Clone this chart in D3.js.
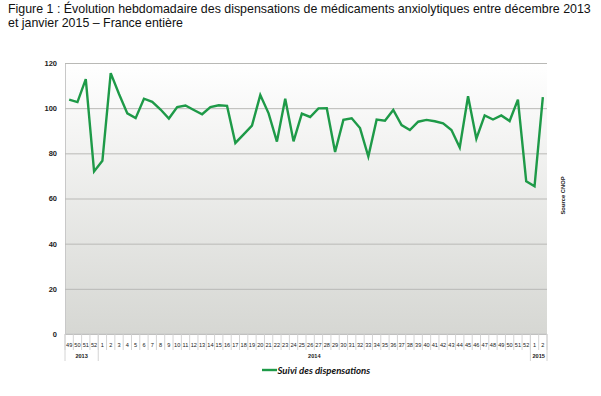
<!DOCTYPE html>
<html>
<head>
<meta charset="utf-8">
<script src="https://cdn.jsdelivr.net/npm/d3@7"></script>
<style>
  body { margin: 0; background: #fff; }
  svg { display: block; }
</style>
</head>
<body>
<svg></svg>
<script>
// weeks, grouped by year
var weeks = [49, 50, 51, 52,
  1, 2, 3, 4, 5, 6, 7, 8, 9, 10, 11, 12, 13, 14, 15, 16, 17, 18, 19, 20, 21, 22, 23, 24, 25, 26,
  27, 28, 29, 30, 31, 32, 33, 34, 35, 36, 37, 38, 39, 40, 41, 42, 43, 44, 45, 46, 47, 48, 49, 50, 51, 52,
  1, 2]
var years = ["2013", "2014", "2015"]
var yearCounts = [4, 52, 2]

var dispensations = [103.8, 102.7, 112.9, 72.0, 76.7, 115.5, 106.3, 97.7, 95.6, 104.2,
  102.8, 99.4, 95.4, 100.5, 101.2, 99.2, 97.3, 100.5, 101.3, 101.0,
  84.6, 88.4, 92.3, 105.8, 97.7, 85.2, 104.2, 85.3, 97.6, 96.1,
  99.9, 100.0, 80.6, 94.8, 95.5, 91.2, 78.6, 94.9, 94.4, 99.2,
  92.5, 90.3, 94.0, 94.8, 94.2, 93.3, 90.3, 82.6, 105.3, 86.5,
  96.8, 95.0, 96.8, 94.3, 103.8, 67.6, 65.4, 104.9]

var yTicks = [0, 20, 40, 60, 80, 100, 120]

var width = 601
var height = 396
var plotLeft = 65, plotRight = 547, plotTop = 63, plotBottom = 334

var svg = d3.select("svg")
    .attr("width", width)
    .attr("height", height)
    .style("font-family", "'Liberation Sans', Arial, sans-serif")

/* Title */
var title = svg.append("text")
    .attr("font-size", 12.4)
    .attr("fill", "#111")
title.append("tspan").attr("x", 8).attr("y", 13)
    .text("Figure 1 : Évolution hebdomadaire des dispensations de médicaments anxiolytiques entre décembre 2013")
title.append("tspan").attr("x", 8).attr("y", 27)
    .text("et janvier 2015 – France entière")

/* Scales */
var xScale = d3.scaleBand()
    .domain(d3.range(weeks.length))
    .range([plotLeft, plotRight])

var yScale = d3.scaleLinear()
    .domain([0, 120])
    .range([plotBottom, plotTop])

/* Plot background */
var grad = svg.append("defs").append("linearGradient")
    .attr("id", "bg")
    .attr("x1", 0).attr("y1", 0).attr("x2", 0).attr("y2", 1)
grad.append("stop").attr("offset", "0%").attr("stop-color", "#ffffff")
grad.append("stop").attr("offset", "100%").attr("stop-color", "#d6d7d3")

svg.append("rect")
    .attr("x", plotLeft)
    .attr("y", plotTop)
    .attr("width", plotRight - plotLeft)
    .attr("height", plotBottom - plotTop)
    .attr("fill", "url(#bg)")

/* Y grid + labels */
var yAxis = d3.axisLeft(yScale)
    .tickValues(yTicks)
    .tickSize(-(plotRight - plotLeft))
    .tickPadding(8)

var gy = svg.append("g")
    .attr("transform", "translate(" + plotLeft + ",0)")
    .call(yAxis)
gy.select(".domain").attr("stroke", "#c8c8c8")
gy.selectAll(".tick line").attr("stroke", "#b9b9b6").attr("stroke-width", 1)
gy.selectAll(".tick text")
    .attr("font-size", 7.5)
    .attr("font-weight", "bold")
    .attr("fill", "#222")
    .style("font-family", "'Liberation Sans', Arial, sans-serif")

/* X axis: week cells */
var gx = svg.append("g")
svg.append("line")
    .attr("x1", plotLeft).attr("x2", plotRight)
    .attr("y1", plotBottom).attr("y2", plotBottom)
    .attr("stroke", "#c8c8c8")

var edge = (d) => d < weeks.length ? xScale(d) : plotRight

gx.selectAll("line.week")
    .data(d3.range(weeks.length + 1))
    .enter()
        .append("line")
            .attr("x1", edge)
            .attr("x2", edge)
            .attr("y1", plotBottom)
            .attr("y2", plotBottom + 16)
            .attr("stroke", "#d4d4d4")

gx.selectAll("text.week")
    .data(weeks)
    .enter()
        .append("text")
            .attr("x", (d, i) => xScale(i) + xScale.bandwidth() / 2)
            .attr("y", plotBottom + 13)
            .attr("text-anchor", "middle")
            .attr("font-size", 5.6)
            .attr("fill", "#222")
            .text((d) => d)

/* X axis: year groups */
var starts = [0]
yearCounts.forEach((c, i) => starts.push(starts[i] + c))

gx.selectAll("line.year")
    .data(starts)
    .enter()
        .append("line")
            .attr("x1", edge)
            .attr("x2", edge)
            .attr("y1", plotBottom)
            .attr("y2", plotBottom + 27)
            .attr("stroke", "#d4d4d4")

gx.selectAll("text.year")
    .data(years)
    .enter()
        .append("text")
            .attr("x", (d, i) => (edge(starts[i]) + edge(starts[i + 1])) / 2)
            .attr("y", plotBottom + 24)
            .attr("text-anchor", "middle")
            .attr("font-size", 5.6)
            .attr("font-weight", "bold")
            .attr("fill", "#222")
            .text((d) => d)

/* Line */
var line = d3.line()
    .x((d, i) => xScale(i) + xScale.bandwidth() / 2)
    .y((d) => yScale(d))

svg.append("path")
    .datum(dispensations)
    .attr("d", line)
    .attr("fill", "none")
    .attr("stroke", "#1e9a48")
    .attr("stroke-width", 2.4)

/* Legend */
svg.append("line")
    .attr("x1", 262).attr("x2", 277)
    .attr("y1", 370).attr("y2", 370)
    .attr("stroke", "#1e9a48")
    .attr("stroke-width", 2.4)

svg.append("text")
    .attr("x", 277.5)
    .attr("y", 373.5)
    .attr("font-size", 9.6)
    .attr("font-weight", "bold")
    .attr("font-style", "italic")
    .attr("fill", "#111")
    .style("font-family", "Lato, sans-serif")
    .text("Suivi des dispensations")

/* Source */
svg.append("text")
    .attr("transform", "translate(564.5,195.5) rotate(-90)")
    .attr("text-anchor", "middle")
    .attr("font-size", 5.8)
    .attr("font-weight", "bold")
    .attr("fill", "#222")
    .text("Source CNOP")
</script>
</body>
</html>
